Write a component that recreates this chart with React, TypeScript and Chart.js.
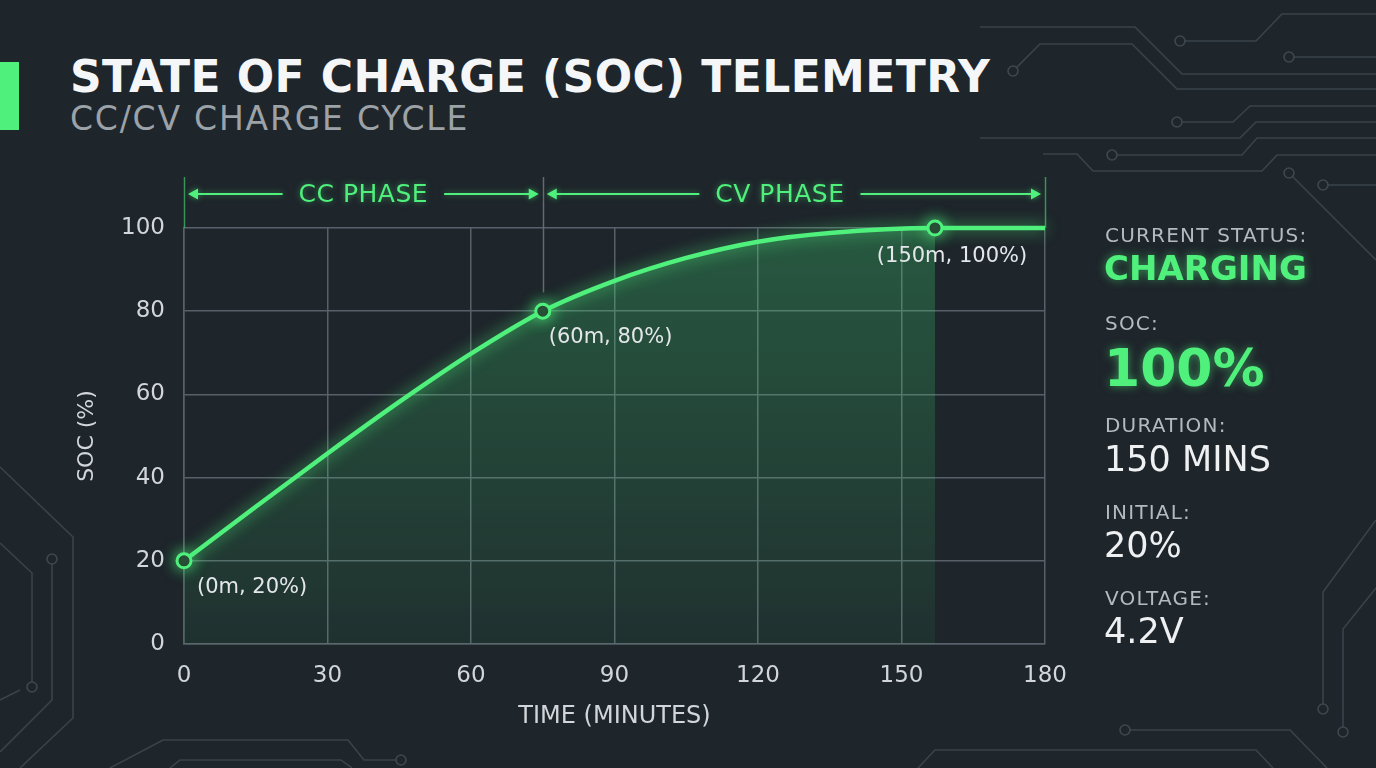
import React, { useEffect, useRef } from "react";
import { Chart, registerables } from "chart.js";

Chart.register(...registerables);

// ---------- data ----------
const timeMinutes = [0, 15, 30, 45, 60, 75, 90, 105, 120, 135, 157, 180];
const socPercent = [20, 33, 45.8, 58.2, 69.8, 80, 87.3, 92.8, 96.7, 98.8, 100, 100];
const fillEndMinute = 157;
const keyTimes = [0, 75, 157];
const keySoc = [20, 80, 100];
const keyLabels = ["(0m, 20%)", "(60m, 80%)", "(150m, 100%)"];
const xTickValues = [0, 30, 60, 90, 120, 150, 180];
const yTickValues = [0, 20, 40, 60, 80, 100];
const phaseNames = ["CC PHASE", "CV PHASE"];
const phaseBounds = [0, 75, 180];
const statusLabels = ["CURRENT STATUS:", "SOC:", "DURATION:", "INITIAL:", "VOLTAGE:"];
const statusValues = ["CHARGING", "100%", "150 MINS", "20%", "4.2V"];

// ---------- styles ----------
const GREEN = "#4ff07c";
const BG = "#1e252b";
const GRID = "#58616a";
const TEXT = "#d2d6da";
const FONT = "'DejaVu Sans', sans-serif";

const glowPlugin = {
  id: "glow",
  beforeDatasetDraw(chart: any, args: any) {
    const ds: any = chart.data.datasets[args.index];
    if (ds.glow) {
      chart.ctx.save();
      chart.ctx.shadowColor = "rgba(79,240,124,0.8)";
      chart.ctx.shadowBlur = 15;
    }
  },
  afterDatasetDraw(chart: any, args: any) {
    const ds: any = chart.data.datasets[args.index];
    if (ds.glow) chart.ctx.restore();
  },
};

const labelOffsets = [
  { dx: 13, dy: 27, align: "left" },
  { dx: 6, dy: 26, align: "left" },
  { dx: 17, dy: 29, align: "center" },
];

const annotationPlugin = {
  id: "annotations",
  afterDatasetsDraw(chart: any) {
    const { ctx, scales } = chart;
    const x = scales.x;
    const y = scales.y;
    ctx.save();
    ctx.font = `21px ${FONT}`;
    ctx.fillStyle = "#e4e7ea";
    ctx.textBaseline = "middle";
    keyLabels.forEach((lab, i) => {
      const px = x.getPixelForValue(keyTimes[i]);
      const py = y.getPixelForValue(keySoc[i]);
      const o = labelOffsets[i];
      ctx.textAlign = o.align;
      ctx.fillText(lab, px + o.dx, py + o.dy);
    });
    ctx.restore();
  },
  afterDraw(chart: any) {
    const { ctx, scales, chartArea } = chart;
    const x = scales.x;
    const y = scales.y;
    const arrowY = chartArea.top - 34;
    const tickTop = chartArea.top - 51;
    ctx.save();
    phaseBounds.forEach((b, i) => {
      const px = Math.round(x.getPixelForValue(b)) + 0.5;
      ctx.beginPath();
      ctx.lineWidth = 1.5;
      if (i === 0 || i === phaseBounds.length - 1) {
        ctx.strokeStyle = "rgba(79,240,124,0.55)";
        ctx.moveTo(px, tickTop);
        ctx.lineTo(px, chartArea.top);
      } else {
        ctx.strokeStyle = "#626b73";
        ctx.moveTo(px, tickTop);
        ctx.lineTo(px, y.getPixelForValue(keySoc[i] + 4.5));
      }
      ctx.stroke();
    });
    ctx.font = `25px ${FONT}`;
    (ctx as any).letterSpacing = "0.5px";
    ctx.textAlign = "center";
    ctx.textBaseline = "middle";
    const drawHead = (tipX: number, dir: number) => {
      ctx.beginPath();
      ctx.moveTo(tipX, arrowY);
      ctx.lineTo(tipX - dir * 10, arrowY - 5.5);
      ctx.lineTo(tipX - dir * 10, arrowY + 5.5);
      ctx.closePath();
      ctx.fill();
    };
    ctx.strokeStyle = GREEN;
    ctx.fillStyle = GREEN;
    ctx.lineWidth = 2;
    phaseNames.forEach((name, i) => {
      const a = x.getPixelForValue(phaseBounds[i]) + 4;
      const b = x.getPixelForValue(phaseBounds[i + 1]) - 4;
      const mid = (a + b) / 2 - (i === 1 ? 14 : 0);
      const tw = ctx.measureText(name).width;
      ctx.shadowColor = "rgba(79,240,124,0.5)";
      ctx.shadowBlur = 6;
      ctx.fillText(name, mid, arrowY + 1);
      ctx.beginPath();
      ctx.moveTo(a + 4, arrowY);
      ctx.lineTo(mid - tw / 2 - 16, arrowY);
      ctx.moveTo(mid + tw / 2 + 16, arrowY);
      ctx.lineTo(b - 4, arrowY);
      ctx.stroke();
      drawHead(a, -1);
      drawHead(b, 1);
    });
    ctx.restore();
  },
};

// decorative circuit traces (background ornament only)
const traces: { pts: number[][]; dot?: number[] }[] = [
  { pts: [[980, 27], [1135, 27], [1182, 74], [1376, 74]] },
  { pts: [[1013, 71], [1040, 44], [1132, 44], [1177, 89], [1376, 89]], dot: [1013, 71] },
  { pts: [[1180, 41], [1256, 41], [1282, 14], [1376, 14]], dot: [1180, 41] },
  { pts: [[1289, 57], [1376, 57]], dot: [1289, 57] },
  { pts: [[1177, 122], [1233, 122], [1250, 106], [1376, 106]], dot: [1177, 122] },
  { pts: [[980, 138], [1240, 138], [1256, 122], [1376, 122]] },
  { pts: [[1112, 155], [1242, 155], [1257, 138], [1376, 138]], dot: [1112, 155] },
  { pts: [[1043, 154], [1077, 154], [1093, 171], [1262, 171], [1277, 155], [1376, 155]] },
  { pts: [[1289, 173], [1376, 260]], dot: [1289, 173] },
  { pts: [[1323, 185], [1376, 185]], dot: [1323, 185] },
  { pts: [[0, 467], [73, 537], [73, 718], [20, 768]] },
  { pts: [[0, 543], [32, 573], [32, 687]], dot: [32, 687] },
  { pts: [[52, 559], [52, 700], [0, 752]], dot: [52, 559] },
  { pts: [[0, 700], [20, 690]] },
  { pts: [[110, 768], [163, 740], [348, 740], [364, 760], [401, 760]], dot: [401, 760] },
  { pts: [[170, 768], [180, 760], [341, 760], [352, 768]] },
  { pts: [[1125, 730], [1290, 730], [1327, 768]], dot: [1125, 730] },
  { pts: [[918, 768], [935, 750], [1256, 750], [1273, 768]] },
  { pts: [[1376, 520], [1323, 592], [1323, 709]], dot: [1323, 709] },
  { pts: [[1376, 588], [1343, 629], [1343, 732]], dot: [1343, 732] },
];

export default function App() {
  const canvasRef = useRef<HTMLCanvasElement | null>(null);

  useEffect(() => {
    const canvas = canvasRef.current;
    if (!canvas) return;
    const lineData = timeMinutes.map((t, i) => ({ x: t, y: socPercent[i] }));
    const fillData = lineData.filter((p) => p.x <= fillEndMinute);
    const markerData = keyTimes.map((t, i) => ({ x: t, y: keySoc[i] }));

    const chart = new Chart(canvas, {
      type: "line",
      data: {
        datasets: [
          {
            label: "markers",
            data: markerData,
            showLine: false,
            pointRadius: 7,
            pointBorderWidth: 3,
            pointBackgroundColor: "#1f2b28",
            pointBorderColor: GREEN,
            order: 0,
            clip: false,
            glow: true,
          } as any,
          {
            label: "SOC",
            data: lineData,
            borderColor: GREEN,
            borderWidth: 4.5,
            pointRadius: 0,
            cubicInterpolationMode: "monotone",
            fill: false,
            order: 1,
            clip: false,
            glow: true,
          } as any,
          {
            label: "area",
            data: fillData,
            borderWidth: 0,
            borderColor: "rgba(0,0,0,0)",
            pointRadius: 0,
            cubicInterpolationMode: "monotone",
            fill: "origin",
            order: 2,
            backgroundColor: (c: any) => {
              const area = c.chart.chartArea;
              if (!area) return "rgba(60,200,110,0.15)";
              const g = c.chart.ctx.createLinearGradient(0, area.top, 0, area.bottom);
              g.addColorStop(0, "rgba(62,210,115,0.3)");
              g.addColorStop(1, "rgba(62,210,115,0.07)");
              return g;
            },
          } as any,
        ],
      },
      options: {
        animation: false,
        responsive: false,
        layout: { padding: { left: 0, top: 228, right: 331, bottom: 24 } },
        plugins: { legend: { display: false }, tooltip: { enabled: false } },
        scales: {
          x: {
            type: "linear",
            min: 0,
            max: 180,
            afterBuildTicks: (s: any) => {
              s.ticks = xTickValues.map((v) => ({ value: v }));
            },
            afterFit: (s: any) => {
              s.height = 100;
            },
            grid: { color: GRID, lineWidth: 1.5, drawTicks: false },
            border: { color: GRID, width: 1.5 },
            ticks: { color: TEXT, font: { family: FONT, size: 23 }, padding: 18, maxRotation: 0 },
            title: {
              display: true,
              text: "TIME (MINUTES)",
              color: TEXT,
              font: { family: FONT, size: 24 },
              padding: { top: 0, bottom: 13 },
            },
          },
          y: {
            type: "linear",
            min: 0,
            max: 100,
            afterBuildTicks: (s: any) => {
              s.ticks = yTickValues.map((v) => ({ value: v }));
            },
            afterFit: (s: any) => {
              s.width = 184;
            },
            grid: { color: GRID, lineWidth: 1.5, drawTicks: false },
            border: { color: GRID, width: 1.5 },
            ticks: { color: TEXT, font: { family: FONT, size: 23 }, padding: 19 },
            title: {
              display: true,
              text: "SOC (%)",
              color: TEXT,
              font: { family: FONT, size: 22 },
              padding: { top: 74, bottom: 0 },
            },
          },
        },
      },
      plugins: [glowPlugin, annotationPlugin],
    });
    return () => chart.destroy();
  }, []);

  const labelCenters = [235, 323, 425, 512, 598];
  const valueCenters = [267, 367, 459, 545, 631];
  const valueStyles = [
    { size: 34, weight: "bold", color: GREEN, glow: true },
    { size: 52, weight: "bold", color: GREEN, glow: true },
    { size: 35, weight: "normal", color: "#eef0f2", glow: false },
    { size: 35, weight: "normal", color: "#eef0f2", glow: false },
    { size: 35, weight: "normal", color: "#eef0f2", glow: false },
  ];

  return (
    <div
      style={{
        position: "fixed",
        left: 0,
        top: 0,
        width: 1376,
        height: 768,
        background: BG,
        overflow: "hidden",
        fontFamily: FONT,
      }}
    >
      <svg width={1376} height={768} style={{ position: "absolute", left: 0, top: 0 }}>
        {traces.map((t, i) => (
          <g key={i}>
            <polyline
              points={t.pts.map((p) => p.join(",")).join(" ")}
              fill="none"
              stroke="#3a434b"
              strokeWidth={1.6}
            />
            {t.dot && <circle cx={t.dot[0]} cy={t.dot[1]} r={5} fill={BG} stroke="#3f4850" strokeWidth={1.6} />}
          </g>
        ))}
      </svg>
      <div style={{ position: "absolute", left: 0, top: 62, width: 19, height: 68, background: GREEN }} />
      <div
        style={{
          position: "absolute",
          left: 70,
          top: 55,
          fontSize: 44,
          fontWeight: "bold",
          lineHeight: 1,
          letterSpacing: 0.4,
          color: "#f4f6f7",
          whiteSpace: "nowrap",
        }}
      >
        STATE OF CHARGE (SOC) TELEMETRY
      </div>
      <div
        style={{
          position: "absolute",
          left: 70,
          top: 102,
          fontSize: 33,
          lineHeight: 1,
          letterSpacing: 1.8,
          color: "#9ba2a8",
          whiteSpace: "nowrap",
        }}
      >
        CC/CV CHARGE CYCLE
      </div>
      <canvas
        ref={canvasRef}
        width={1376}
        height={768}
        style={{ position: "absolute", left: 0, top: 0, width: 1376, height: 768 }}
      />
      {statusLabels.map((lab, i) => (
        <div
          key={"l" + i}
          style={{
            position: "absolute",
            left: 1105,
            top: labelCenters[i] - 10,
            fontSize: 20,
            lineHeight: 1,
            letterSpacing: 1.2,
            color: "#b4babf",
            whiteSpace: "nowrap",
          }}
        >
          {lab}
        </div>
      ))}
      {statusValues.map((val, i) => {
        const s = valueStyles[i];
        return (
          <div
            key={"v" + i}
            style={{
              position: "absolute",
              left: 1104,
              top: valueCenters[i] - s.size * 0.48,
              fontSize: s.size,
              fontWeight: s.weight as any,
              lineHeight: 1,
              color: s.color,
              whiteSpace: "nowrap",
              textShadow: s.glow ? "0 0 10px rgba(79,240,124,0.55)" : "none",
            }}
          >
            {val}
          </div>
        );
      })}
    </div>
  );
}
